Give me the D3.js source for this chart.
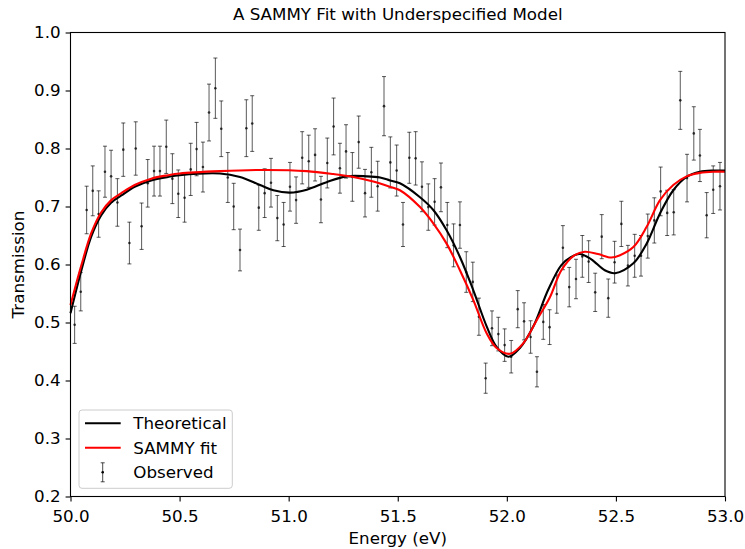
<!DOCTYPE html>
<html>
<head>
<meta charset="utf-8">
<script src="https://cdn.jsdelivr.net/npm/d3@7"></script>
<style>
  body { margin: 0; background: #fff; }
  svg { display: block; font-family: "DejaVu Sans", sans-serif; }
</style>
</head>
<body>
<script>
// Observed data (energy in eV, transmission, 1-sigma error)
var obsEnergy = [50.019, 50.047, 50.074, 50.102, 50.129, 50.158, 50.186, 50.215, 50.242, 50.270,
    50.299, 50.326, 50.354, 50.383, 50.410, 50.439, 50.467, 50.494, 50.523, 50.551,
    50.578, 50.607, 50.635, 50.664, 50.691, 50.721, 50.748, 50.777, 50.806, 50.833,
    50.863, 50.890, 50.919, 50.948, 50.977, 51.006, 51.034, 51.062, 51.092, 51.121,
    51.148, 51.177, 51.206, 51.235, 51.263, 51.292, 51.321, 51.350, 51.379, 51.408,
    51.437, 51.466, 51.495, 51.524, 51.553, 51.582, 51.611, 51.640, 51.669, 51.698,
    51.727, 51.756, 51.785, 51.814, 51.844, 51.872, 51.903, 51.932, 51.961, 51.990,
    52.020, 52.050, 52.079, 52.109, 52.138, 52.167, 52.196, 52.229, 52.257, 52.286,
    52.317, 52.346, 52.375, 52.405, 52.435, 52.465, 52.494, 52.525, 52.555, 52.586,
    52.615, 52.646, 52.676, 52.705, 52.735, 52.765, 52.795, 52.826, 52.857, 52.885,
    52.916, 52.946, 52.977];
var obsTrans = [0.496, 0.553, 0.694, 0.727, 0.687, 0.760, 0.752, 0.707, 0.798, 0.637,
    0.800, 0.666, 0.740, 0.761, 0.761, 0.803, 0.748, 0.722, 0.715, 0.764,
    0.799, 0.768, 0.862, 0.904, 0.834, 0.750, 0.700, 0.625, 0.835, 0.843,
    0.698, 0.723, 0.741, 0.680, 0.669, 0.734, 0.711, 0.784, 0.778, 0.789,
    0.712, 0.775, 0.838, 0.766, 0.795, 0.751, 0.811, 0.723, 0.759, 0.735,
    0.873, 0.776, 0.762, 0.669, 0.784, 0.783, 0.734, 0.699, 0.708, 0.733,
    0.668, 0.633, 0.668, 0.587, 0.570, 0.510, 0.404, 0.490, 0.480, 0.461,
    0.441, 0.523, 0.502, 0.475, 0.415, 0.501, 0.492, 0.549, 0.629, 0.561,
    0.575, 0.614, 0.605, 0.552, 0.648, 0.542, 0.604, 0.670, 0.598, 0.615,
    0.615, 0.649, 0.676, 0.726, 0.689, 0.690, 0.883, 0.749, 0.826, 0.788,
    0.685, 0.729, 0.735];
var obsError = [0.032, 0.033, 0.041, 0.043, 0.040, 0.044, 0.045, 0.041, 0.046, 0.036,
    0.046, 0.040, 0.041, 0.043, 0.043, 0.046, 0.043, 0.041, 0.042, 0.045,
    0.046, 0.043, 0.049, 0.052, 0.048, 0.043, 0.040, 0.036, 0.049, 0.048,
    0.039, 0.042, 0.042, 0.039, 0.038, 0.042, 0.040, 0.045, 0.045, 0.045,
    0.040, 0.043, 0.049, 0.043, 0.046, 0.042, 0.045, 0.041, 0.043, 0.043,
    0.051, 0.044, 0.044, 0.038, 0.044, 0.046, 0.043, 0.040, 0.040, 0.042,
    0.039, 0.037, 0.040, 0.035, 0.034, 0.032, 0.026, 0.030, 0.029, 0.028,
    0.028, 0.032, 0.032, 0.028, 0.026, 0.030, 0.030, 0.033, 0.038, 0.034,
    0.034, 0.036, 0.036, 0.033, 0.038, 0.033, 0.036, 0.039, 0.035, 0.037,
    0.035, 0.038, 0.039, 0.042, 0.039, 0.039, 0.050, 0.041, 0.046, 0.045,
    0.039, 0.041, 0.041];

// Theoretical curve
var theoEnergy = [50.000, 50.050, 50.095, 50.141, 50.187, 50.233, 50.294, 50.370, 50.447, 50.500,
    50.685, 50.777, 50.869, 50.930, 51.006, 51.083, 51.174, 51.266, 51.358, 51.419,
    51.464, 51.510, 51.602, 51.663, 51.724, 51.785, 51.846, 51.908, 51.953, 52.007,
    52.060, 52.121, 52.189, 52.250, 52.295, 52.334, 52.387, 52.449, 52.496, 52.580,
    52.641, 52.702, 52.763, 52.824, 52.885, 52.950, 53.000];
var theoTrans = [0.516, 0.590, 0.648, 0.685, 0.707, 0.719, 0.734, 0.745, 0.751, 0.754,
    0.757, 0.751, 0.737, 0.728, 0.724, 0.729, 0.742, 0.752, 0.752, 0.750,
    0.745, 0.740, 0.716, 0.694, 0.659, 0.613, 0.556, 0.493, 0.458, 0.441,
    0.456, 0.493, 0.556, 0.599, 0.613, 0.618, 0.609, 0.590, 0.585, 0.602,
    0.636, 0.688, 0.728, 0.751, 0.760, 0.762, 0.762];

// SAMMY fit curve
var fitEnergy = [50.000, 50.050, 50.095, 50.141, 50.187, 50.233, 50.294, 50.370, 50.447, 50.500,
    50.685, 50.899, 51.083, 51.205, 51.296, 51.388, 51.464, 51.510, 51.602, 51.663,
    51.724, 51.785, 51.846, 51.908, 51.953, 52.014, 52.075, 52.137, 52.198, 52.250,
    52.311, 52.357, 52.418, 52.479, 52.519, 52.580, 52.641, 52.702, 52.763, 52.824,
    52.885, 52.950, 53.000];
var fitTrans = [0.530, 0.599, 0.654, 0.690, 0.711, 0.723, 0.737, 0.748, 0.754, 0.757,
    0.761, 0.763, 0.761, 0.756, 0.751, 0.743, 0.734, 0.728, 0.699, 0.671,
    0.636, 0.590, 0.539, 0.481, 0.456, 0.446, 0.464, 0.504, 0.544, 0.590,
    0.616, 0.622, 0.618, 0.612, 0.616, 0.630, 0.665, 0.711, 0.737, 0.752,
    0.758, 0.760, 0.760];

var xTicks = [50.0, 50.5, 51.0, 51.5, 52.0, 52.5, 53.0];
var yTicks = [0.2, 0.3, 0.4, 0.5, 0.6, 0.7, 0.8, 0.9, 1.0];

var width = 745, height = 549;
var margin = { left: 70.5, right: 20, top: 32.5, bottom: 52.5 };
var fs = 16.7;

var svg = d3.select("body").append("svg")
    .attr("width", width)
    .attr("height", height);

var x = d3.scaleLinear().domain([50, 53]).range([margin.left, width - margin.right]);
var y = d3.scaleLinear().domain([0.2, 1.0]).range([height - margin.bottom, margin.top]);

var plot = svg.append("g");

// error bars
var obs = obsEnergy.map(function (e, i) {
    return { e: e, t: obsTrans[i], s: obsError[i] };
});

var eb = plot.append("g").attr("stroke", "#000").attr("stroke-opacity", 0.65).attr("stroke-width", 1);
eb.selectAll(".bar").data(obs).enter().append("line")
    .attr("x1", function (d) { return x(d.e); })
    .attr("x2", function (d) { return x(d.e); })
    .attr("y1", function (d) { return y(d.t - d.s); })
    .attr("y2", function (d) { return y(d.t + d.s); });
eb.selectAll(".capTop").data(obs).enter().append("line")
    .attr("x1", function (d) { return x(d.e) - 2; })
    .attr("x2", function (d) { return x(d.e) + 2; })
    .attr("y1", function (d) { return y(d.t + d.s); })
    .attr("y2", function (d) { return y(d.t + d.s); });
eb.selectAll(".capBot").data(obs).enter().append("line")
    .attr("x1", function (d) { return x(d.e) - 2; })
    .attr("x2", function (d) { return x(d.e) + 2; })
    .attr("y1", function (d) { return y(d.t - d.s); })
    .attr("y2", function (d) { return y(d.t - d.s); });
plot.append("g").selectAll("circle").data(obs).enter().append("circle")
    .attr("cx", function (d) { return x(d.e); })
    .attr("cy", function (d) { return y(d.t); })
    .attr("r", 1.3)
    .attr("fill", "#000")
    .attr("fill-opacity", 0.75);

// curves
var line = d3.line()
    .x(function (d) { return x(d[0]); })
    .y(function (d) { return y(d[1]); })
    .curve(d3.curveCatmullRom.alpha(0.5));

plot.append("path")
    .datum(d3.zip(theoEnergy, theoTrans))
    .attr("d", line)
    .attr("fill", "none")
    .attr("stroke", "#000")
    .attr("stroke-width", 2.1);

plot.append("path")
    .datum(d3.zip(fitEnergy, fitTrans))
    .attr("d", line)
    .attr("fill", "none")
    .attr("stroke", "#ff0000")
    .attr("stroke-width", 2.1);

// axes
var xAxis = svg.append("g")
    .attr("transform", "translate(0," + (height - margin.bottom) + ")")
    .call(d3.axisBottom(x).tickValues(xTicks).tickFormat(d3.format(".1f")).tickSizeOuter(0).tickSize(4.9).tickPadding(8.5));
var yAxis = svg.append("g")
    .attr("transform", "translate(" + margin.left + ",0)")
    .call(d3.axisLeft(y).tickValues(yTicks).tickFormat(d3.format(".1f")).tickSizeOuter(0).tickSize(4.9).tickPadding(5));

[xAxis, yAxis].forEach(function (a) {
    a.selectAll("text").attr("font-size", fs).attr("font-family", "DejaVu Sans").attr("fill", "#000");
    a.selectAll("line").attr("stroke", "#000").attr("stroke-width", 1.1);
    a.select(".domain").remove();
});

// frame
svg.append("rect")
    .attr("x", margin.left)
    .attr("y", margin.top)
    .attr("width", width - margin.left - margin.right)
    .attr("height", height - margin.top - margin.bottom)
    .attr("fill", "none")
    .attr("stroke", "#000")
    .attr("stroke-width", 1.1);

// title and labels
svg.append("text")
    .attr("x", (margin.left + width - margin.right) / 2)
    .attr("y", 19.5)
    .attr("text-anchor", "middle")
    .attr("font-size", fs)
    .text("A SAMMY Fit with Underspecified Model");

svg.append("text")
    .attr("x", (margin.left + width - margin.right) / 2)
    .attr("y", 544)
    .attr("text-anchor", "middle")
    .attr("font-size", fs)
    .text("Energy (eV)");

svg.append("text")
    .attr("transform", "translate(23.5," + ((margin.top + height - margin.bottom) / 2) + ") rotate(-90)")
    .attr("text-anchor", "middle")
    .attr("font-size", fs)
    .text("Transmission");

// legend
var lg = svg.append("g").attr("transform", "translate(79,410)");
lg.append("rect")
    .attr("width", 153.3).attr("height", 78.3)
    .attr("rx", 3)
    .attr("fill", "#fff").attr("fill-opacity", 0.8)
    .attr("stroke", "#ccc").attr("stroke-width", 1);

var legendItems = ["Theoretical", "SAMMY fit", "Observed"];
var legendColors = ["#000", "#ff0000", null];
legendItems.forEach(function (name, i) {
    var cy = 13.3 + i * 24.5;
    if (legendColors[i]) {
        lg.append("line")
            .attr("x1", 6).attr("x2", 41.7)
            .attr("y1", cy).attr("y2", cy)
            .attr("stroke", legendColors[i]).attr("stroke-width", 2.1);
    } else {
        var g = lg.append("g").attr("stroke", "#000").attr("stroke-opacity", 0.7);
        g.append("line").attr("x1", 23.7).attr("x2", 23.7).attr("y1", cy - 9.5).attr("y2", cy + 9.5);
        g.append("line").attr("x1", 21.7).attr("x2", 25.7).attr("y1", cy - 9.5).attr("y2", cy - 9.5);
        g.append("line").attr("x1", 21.7).attr("x2", 25.7).attr("y1", cy + 9.5).attr("y2", cy + 9.5);
        lg.append("circle").attr("cx", 23.7).attr("cy", cy).attr("r", 1.3).attr("fill", "#000");
    }
    lg.append("text")
        .attr("x", 54.3).attr("y", cy + 6)
        .attr("font-size", fs)
        .text(name);
});
</script>
</body>
</html>
